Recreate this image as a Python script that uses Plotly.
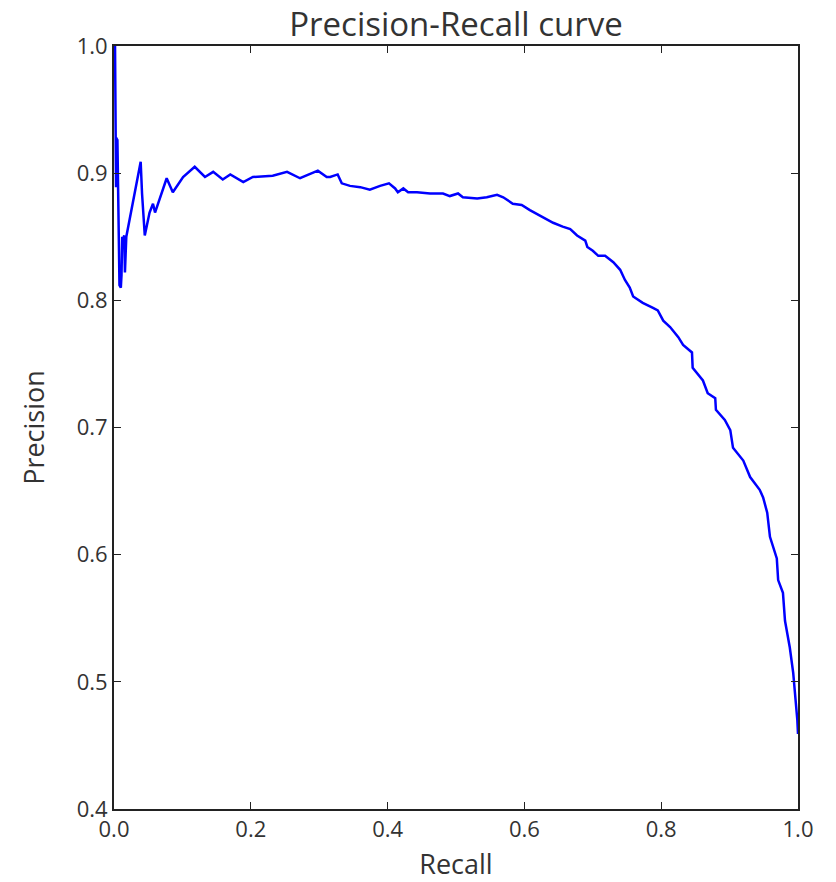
import plotly.graph_objects as go

recall = [0.000, 0.0015, 0.003, 0.003, 0.005, 0.006, 0.007, 0.008, 0.010, 0.011, 0.012, 0.013,
          0.015, 0.016, 0.018, 0.039, 0.041, 0.042, 0.045, 0.052, 0.057, 0.060, 0.077, 0.086,
          0.096, 0.101, 0.118, 0.133, 0.145, 0.159, 0.170, 0.189, 0.203, 0.232, 0.253, 0.272,
          0.298, 0.311, 0.316, 0.327, 0.333, 0.345, 0.360, 0.374, 0.389, 0.402, 0.411, 0.415,
          0.423, 0.430, 0.443, 0.462, 0.481, 0.491, 0.503, 0.510, 0.531, 0.545, 0.560, 0.569,
          0.583, 0.596, 0.608, 0.615, 0.627, 0.642, 0.656, 0.667, 0.677, 0.689, 0.692, 0.700,
          0.708, 0.718, 0.730, 0.740, 0.747, 0.754, 0.759, 0.773, 0.788, 0.795, 0.803, 0.813,
          0.825, 0.832, 0.845, 0.846, 0.861, 0.868, 0.879, 0.880, 0.893, 0.901, 0.905, 0.920,
          0.930, 0.944, 0.949, 0.955, 0.959, 0.969, 0.971, 0.978, 0.981, 0.988, 0.993, 0.996,
          0.999, 1.000]
precision = [1.000, 1.000, 0.889, 0.928, 0.926, 0.889, 0.840, 0.812, 0.810, 0.820, 0.850, 0.848,
             0.851, 0.822, 0.850, 0.909, 0.884, 0.875, 0.851, 0.869, 0.876, 0.869, 0.896, 0.885,
             0.893, 0.897, 0.905, 0.897, 0.901, 0.895, 0.899, 0.893, 0.897, 0.898, 0.901, 0.896,
             0.902, 0.897, 0.897, 0.899, 0.892, 0.890, 0.889, 0.887, 0.890, 0.892, 0.888, 0.885,
             0.888, 0.885, 0.885, 0.884, 0.884, 0.882, 0.884, 0.881, 0.880, 0.881, 0.883, 0.881,
             0.876, 0.875, 0.871, 0.869, 0.865, 0.861, 0.858, 0.856, 0.851, 0.847, 0.842, 0.839,
             0.835, 0.835, 0.830, 0.824, 0.816, 0.810, 0.803, 0.798, 0.794, 0.792, 0.784, 0.779,
             0.771, 0.765, 0.759, 0.747, 0.737, 0.727, 0.723, 0.714, 0.706, 0.698, 0.684, 0.674,
             0.661, 0.651, 0.645, 0.633, 0.614, 0.597, 0.580, 0.570, 0.548, 0.527, 0.507, 0.491,
             0.470, 0.459]

x_ticks = [0.0, 0.2, 0.4, 0.6, 0.8, 1.0]
y_ticks = [0.4, 0.5, 0.6, 0.7, 0.8, 0.9, 1.0]

fig = go.Figure()
fig.add_trace(go.Scatter(x=recall, y=precision, mode="lines",
                         line=dict(color="#0000ff", width=2.5), showlegend=False))

axis_common = dict(showline=True, linecolor="#222222", linewidth=2, mirror="ticks",
                   ticks="inside", ticklen=7, tickwidth=1.2, tickcolor="#222222",
                   showgrid=False, zeroline=False, automargin=False,
                   tickfont=dict(family="Open Sans", size=22, color="#333333"))

fig.update_layout(
    width=836, height=882,
    margin=dict(l=114, r=38, t=46, b=73),
    paper_bgcolor="white", plot_bgcolor="white",
    title=dict(text="Precision-Recall curve", x=0.5, xref="paper", xanchor="center",
               y=0.972, yanchor="middle",
               font=dict(family="Open Sans", size=33, color="#333333")),
    xaxis=dict(range=[0, 1], tickvals=x_ticks, ticktext=[f"{v:.1f}" for v in x_ticks],
               title=dict(text="Recall", font=dict(family="Open Sans", size=27, color="#333333"),
                          standoff=16), **axis_common),
    yaxis=dict(range=[0.4, 1.0], tickvals=y_ticks, ticktext=[f"{v:.1f}" for v in y_ticks],
               title=dict(text="Precision", font=dict(family="Open Sans", size=27, color="#333333"),
                          standoff=24), **axis_common),
)

fig.write_html("out.html")
